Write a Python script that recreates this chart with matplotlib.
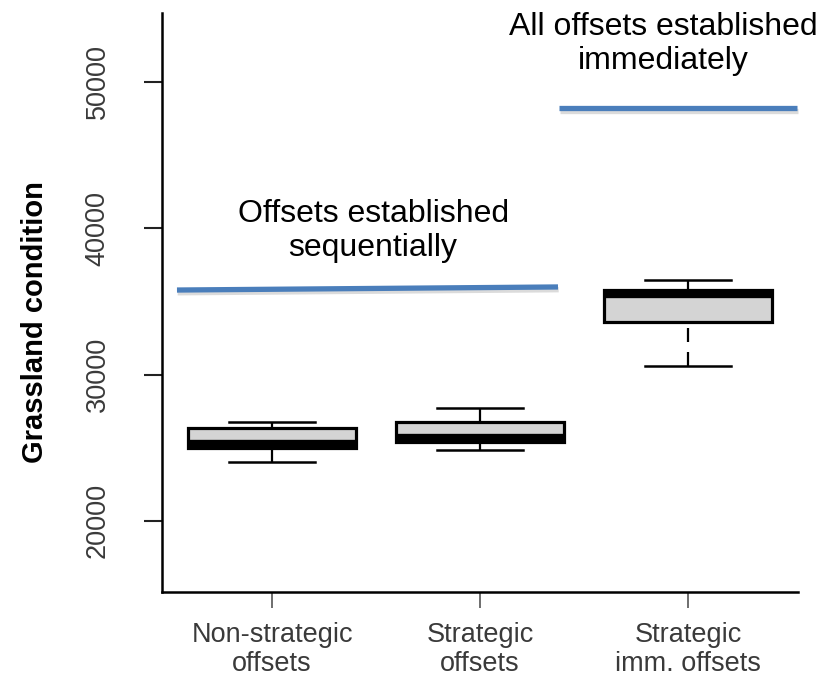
import matplotlib
matplotlib.use("Agg")
import matplotlib.pyplot as plt
import matplotlib.patheffects as pe

plt.rcParams['font.family'] = ['Liberation Sans', 'DejaVu Sans']

# box statistics
groups = ['Non-strategic\noffsets', 'Strategic\noffsets', 'Strategic\nimm. offsets']
whislo = [24030, 24850, 30590]
q1 = [24980, 25390, 33600]
med = [25290, 25670, 35480]
q3 = [26350, 26760, 35780]
whishi = [26760, 27720, 36470]

# target levels (blue lines) and their labels
seq_level = [35780, 35990]
seq_x = [0.543, 2.375]
imm_level = [48220, 48220]
imm_x = [2.380, 3.524]
seq_text = 'Offsets established\nsequentially'
imm_text = 'All offsets established\nimmediately'

yticks = [20000, 30000, 40000, 50000]

fig = plt.figure(figsize=(8.26, 6.76), dpi=100)
ax = fig.add_axes([162/826, 1-592/676, 636/826, 579/676])

stats = []
for i in range(len(groups)):
    stats.append(dict(whislo=whislo[i], q1=q1[i], med=med[i], q3=q3[i],
                      whishi=whishi[i], fliers=[]))

bp = ax.bxp(stats, positions=[1, 2, 3], widths=0.81, capwidths=0.41,
            showfliers=False, patch_artist=True,
            boxprops=dict(facecolor='#d4d4d4', edgecolor='black', linewidth=2.3),
            medianprops=dict(color='black', linewidth=6, solid_capstyle='butt'),
            whiskerprops=dict(color='black', linewidth=1.6, linestyle=(0, (6.3, 4.5))),
            capprops=dict(color='black', linewidth=1.8))
# long lower whisker of the last box: dash pattern starts with a gap at the box
bp['whiskers'][4].set_linestyle((8.1, (6.3, 4.5)))

shadow = [pe.SimpleLineShadow(offset=(0.5, -2), shadow_color='#999999', alpha=0.35), pe.Normal()]
ax.plot(seq_x, seq_level, color='#4a7ebb', lw=3.8, solid_capstyle='butt',
        path_effects=shadow, clip_on=False)
ax.plot(imm_x, imm_level, color='#4a7ebb', lw=3.8, solid_capstyle='butt',
        path_effects=shadow, clip_on=False)

ax.text(1.486, 39800, seq_text, ha='center', va='center', fontsize=23,
        linespacing=1.15)
ax.text(2.88, 52600, imm_text, ha='center', va='center', fontsize=23,
        linespacing=1.15, clip_on=False)

ax.set_xlim(0.471, 3.529)
ax.set_ylim(15140, 54716)
ax.set_xticks([1, 2, 3])
ax.set_xticklabels(groups)
ax.set_yticks(yticks)
ax.set_yticklabels([str(v) for v in yticks], rotation=90, va='center')
plt.setp(ax.get_xticklabels(), linespacing=1.18)

ax.tick_params(axis='y', length=13, width=1.5, pad=24, labelsize=19.5,
               labelcolor='#3a3a3a', color='#222222')
ax.tick_params(axis='x', length=11.5, width=1.2, pad=10, labelsize=19.5,
               labelcolor='#3a3a3a', color='#555555')

for side in ['top', 'right']:
    ax.spines[side].set_visible(False)
for side in ['left', 'bottom']:
    ax.spines[side].set_linewidth(1.8)

ax.set_ylabel('Grassland condition', fontsize=21, fontweight='bold', va='center')
ax.yaxis.set_label_coords(35/826, 1-322/676, transform=fig.transFigure)

fig.savefig('out.png', dpi=100)
